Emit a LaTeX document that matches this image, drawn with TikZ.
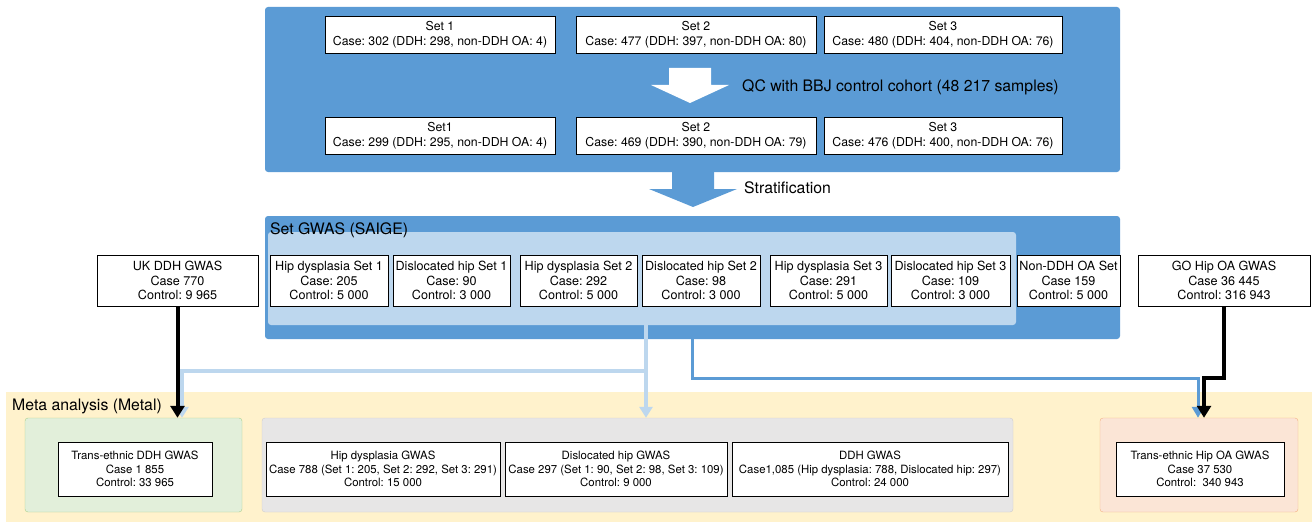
\documentclass[tikz,border=0pt]{standalone}
\usepackage{fontspec}
\setmainfont{TeX Gyre Heros}
\frenchspacing
\usetikzlibrary{arrows.meta,positioning}
\definecolor{darkblue}{HTML}{5B9BD5}
\definecolor{lightblue}{HTML}{BDD7EE}
\definecolor{metabg}{HTML}{FFF2CC}
\definecolor{greenbg}{HTML}{E2EFDA}
\definecolor{greenline}{HTML}{A9D18E}
\definecolor{graybg}{HTML}{E7E6E6}
\definecolor{grayline}{HTML}{D0CECE}
\definecolor{orangebg}{HTML}{FBE5D6}
\definecolor{orangeline}{HTML}{F4B183}

\begin{document}
\begin{tikzpicture}[x=1pt,y=-1pt,
	panel/.style={rounded corners=3pt,inner sep=0pt},
	title/.style={anchor=west,inner sep=0pt,font=\fontsize{15.8}{18}\selectfont},
	setbox/.style={draw=black,line width=0.9pt,fill=white,align=center,inner sep=0pt,minimum height=37pt,font=\fontsize{12.3}{15.5}\selectfont},
	gwbox/.style={draw=black,line width=0.9pt,fill=white,align=center,inner sep=0pt,minimum height=51pt,font=\fontsize{12.6}{14.7}\selectfont},
	metabox/.style={draw=black,line width=0.9pt,fill=white,align=center,inner sep=0pt,minimum height=54pt,font=\fontsize{11.4}{13.7}\selectfont},
	blackarrow/.style={line width=4pt,-{Triangle[width=14pt,length=12pt]}},
	darkline/.style={darkblue,line width=3pt,-{Triangle[width=12pt,length=11pt]}},
	lightline/.style={lightblue,line width=4.5pt,-{Triangle[width=13pt,length=11pt]}}]
	\useasboundingbox (0,0) rectangle (1314,524);

	%QC panel
	\node[panel,fill=darkblue,minimum width=855pt,minimum height=165pt] (qcpanel) at (692.5,89.5) {};
	\node[setbox,minimum width=230pt] (seta1) at (440,34.5) {Set 1\\Case: 302 (DDH: 298, non-DDH OA: 4)};
	\node[setbox,minimum width=240pt] (seta2) at (696,34.5) {Set 2\\Case: 477 (DDH: 397, non-DDH OA: 80)};
	\node[setbox,minimum width=238pt] (seta3) at (943,34.5) {Set 3\\Case: 480 (DDH: 404, non-DDH OA: 76)};
	\fill[white] (669,68) -- (711,68) -- (711,85) -- (729,85) -- (690,103) -- (651,85) -- (669,85) -- cycle; %QC arrow
	\node[anchor=west,inner sep=0pt,font=\fontsize{15.8}{18}\selectfont] (qclabel) at (742,87) {QC with BBJ control cohort (48 217 samples)};
	\node[setbox,minimum width=230pt] (setb1) at (440,135.5) {Set1\\Case: 299 (DDH: 295, non-DDH OA: 4)};
	\node[setbox,minimum width=240pt] (setb2) at (696,135.5) {Set 2\\Case: 469 (DDH: 390, non-DDH OA: 79)};
	\node[setbox,minimum width=238pt] (setb3) at (943,135.5) {Set 3\\Case: 476 (DDH: 400, non-DDH OA: 76)};

	%stratification arrow
	\fill[darkblue] (672,171) -- (714,171) -- (714,189) -- (737,189) -- (693,207) -- (649,189) -- (672,189) -- cycle;
	\node[anchor=west,inner sep=0pt,font=\fontsize{15.8}{18}\selectfont] (stratlabel) at (744,188) {Stratification};

	%set GWAS panel
	\node[panel,fill=darkblue,minimum width=855pt,minimum height=123pt] (gwaspanel) at (692.5,277.5) {};
	\node[panel,fill=lightblue,minimum width=748pt,minimum height=93pt] (setinner) at (642,278.5) {};
	\node[title] (gwastitle) at (270,230) {Set GWAS (SAIGE)};
	\node[gwbox,minimum width=118pt] (hd1) at (329,280.5) {Hip dysplasia Set 1\\Case: 205\\Control: 5 000};
	\node[gwbox,minimum width=117pt] (dh1) at (451.5,280.5) {Dislocated hip Set 1\\Case: 90\\Control: 3 000};
	\node[gwbox,minimum width=117pt] (hd2) at (578.5,280.5) {Hip dysplasia Set 2\\Case: 292\\Control: 5 000};
	\node[gwbox,minimum width=118pt] (dh2) at (701,280.5) {Dislocated hip Set 2\\Case: 98\\Control: 3 000};
	\node[gwbox,minimum width=117pt] (hd3) at (828.5,280.5) {Hip dysplasia Set 3\\Case: 291\\Control: 5 000};
	\node[gwbox,minimum width=119pt] (dh3) at (950.5,280.5) {Dislocated hip Set 3\\Case: 109\\Control: 3 000};
	\node[gwbox,minimum width=103pt] (nonddh) at (1068.5,280.5) {Non-DDH OA Set\\Case 159\\Control: 5 000};

	%external GWAS
	\node[gwbox,minimum width=161pt] (ukddh) at (177.5,280.5) {UK DDH GWAS\\Case 770\\Control: 9 965};
	\node[gwbox,minimum width=172pt] (gohip) at (1224,280.5) {GO Hip OA GWAS\\Case 36 445\\Control: 316 943};

	%meta analysis panel
	\node[fill=metabg,inner sep=0pt,minimum width=1306pt,minimum height=130pt] (metapanel) at (659,457) {};
	\node[title] (metatitle) at (12,406) {Meta analysis (Metal)};
	\node[panel,draw=greenline,fill=greenbg,minimum width=217pt,minimum height=94pt] (greenpanel) at (133.5,465) {};
	\node[panel,draw=grayline,fill=graybg,minimum width=751pt,minimum height=94pt] (graypanel) at (637.5,465) {};
	\node[panel,draw=orangeline,fill=orangebg,minimum width=198pt,minimum height=94pt] (orangepanel) at (1199,465) {};
	\node[metabox,minimum width=154pt] (transddh) at (135,469) {Trans-ethnic DDH GWAS\\Case 1 855\\Control: 33 965};
	\node[metabox,minimum width=234pt] (hdgwas) at (383,469) {Hip dysplasia GWAS\\Case 788 (Set 1: 205, Set 2: 292, Set 3: 291)\\Control: 15 000};
	\node[metabox,minimum width=222pt] (dhgwas) at (616,469) {Dislocated hip GWAS\\Case 297 (Set 1: 90, Set 2: 98, Set 3: 109)\\Control: 9 000};
	\node[metabox,minimum width=276pt] (ddhgwas) at (870,469) {DDH GWAS\\Case1,085 (Hip dysplasia: 788, Dislocated hip: 297)\\Control: 24 000};
	\node[metabox,minimum width=168pt] (transoa) at (1200,469) {Trans-ethnic Hip OA GWAS\\Case 37 530\\Control:~ 340 943};

	%connectors
	\coordinate (lbx) at (646,0);
	\coordinate (lbbend) at (182,371);
	\coordinate (dbx) at (692,0);
	\coordinate (dbbend) at (1198,378);
	\coordinate (gobend) at (1204,378);
	\draw[lightline] (setinner.south -| lbx) -- (lbx |- graypanel.north); %light blue to gray
	\draw[lightline] (lbx |- lbbend) -- (lbbend) -- (lbbend |- greenpanel.north); %light blue to green
	\draw[darkline] (gwaspanel.south -| dbx) |- (dbbend) -- (dbbend |- orangepanel.north); %dark blue to orange
	\draw[blackarrow] (ukddh.south) -- (ukddh.south |- greenpanel.north); %UK to trans-ethnic
	\draw[blackarrow] (gohip.south) |- (gobend) -- (gobend |- orangepanel.north); %GO to trans-ethnic
\end{tikzpicture}
\end{document}
